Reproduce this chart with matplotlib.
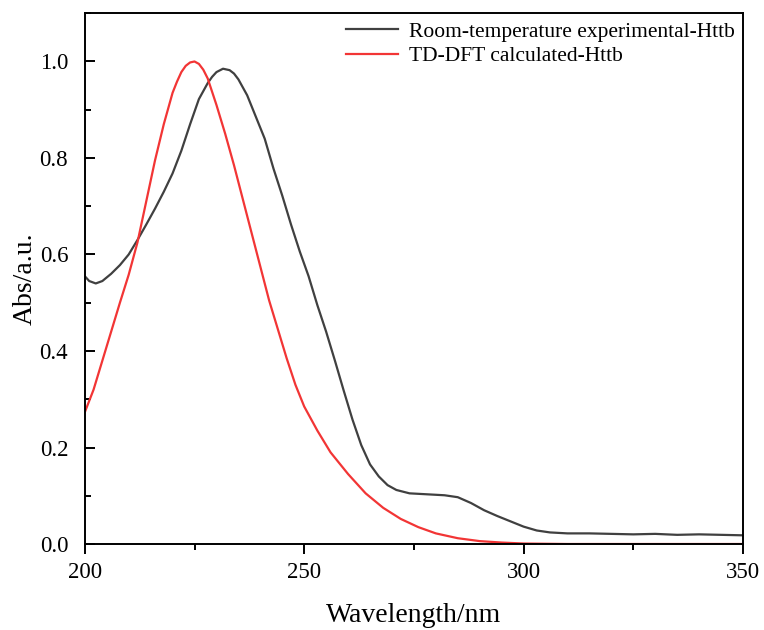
import numpy as np
import matplotlib
matplotlib.use('Agg')
import matplotlib.pyplot as plt
from matplotlib.ticker import MultipleLocator

# Room-temperature experimental spectrum
wl_exp = [200, 201, 202.5, 204, 206, 208, 210, 212, 214, 216, 218, 220, 222, 224,
          226, 228, 229, 230, 231.5, 233, 234, 235, 237, 239, 241, 243, 245, 247,
          249, 251, 253, 255, 257, 259, 261, 263, 265, 267, 269, 271, 274, 278,
          282, 285, 288, 291, 294, 297, 300, 303, 306, 310, 315, 320, 325, 330,
          335, 340, 345, 350]
abs_exp = [0.555, 0.545, 0.540, 0.545, 0.560, 0.578, 0.600, 0.630, 0.662, 0.695,
           0.730, 0.768, 0.815, 0.870, 0.922, 0.955, 0.968, 0.978, 0.985, 0.982,
           0.975, 0.963, 0.930, 0.885, 0.840, 0.778, 0.722, 0.662, 0.606, 0.555,
           0.495, 0.440, 0.380, 0.318, 0.258, 0.205, 0.165, 0.140, 0.122, 0.112,
           0.105, 0.103, 0.101, 0.097, 0.085, 0.070, 0.058, 0.047, 0.036, 0.028,
           0.024, 0.022, 0.022, 0.021, 0.020, 0.021, 0.019, 0.020, 0.019, 0.018]

# TD-DFT calculated spectrum
wl_dft = [200, 202, 204, 206, 208, 210, 212, 214, 216, 218, 220, 221, 222, 223,
          224, 225, 226, 227, 228, 230, 232, 234, 236, 238, 240, 242, 244, 246,
          248, 250, 253, 256, 260, 264, 268, 272, 276, 280, 285, 290, 295, 300,
          310, 350]
abs_dft = [0.273, 0.32, 0.38, 0.44, 0.50, 0.558, 0.625, 0.71, 0.795, 0.87, 0.935,
           0.958, 0.978, 0.991, 0.998, 1.0, 0.995, 0.983, 0.965, 0.91, 0.85, 0.785,
           0.715, 0.645, 0.575, 0.505, 0.445, 0.385, 0.33, 0.285, 0.235, 0.19,
           0.145, 0.105, 0.075, 0.052, 0.035, 0.022, 0.012, 0.006, 0.003, 0.001,
           0.0, 0.0]

plt.rcParams['font.family'] = ['Liberation Serif', 'DejaVu Serif']

fig = plt.figure(figsize=(7.64, 6.30), dpi=100)
ax = fig.add_axes([0.111, 0.1365, 0.8615, 0.8425])

ax.plot(wl_exp, abs_exp, color='#404040', lw=1.6, label='Room-temperature experimental-Httb')
ax.plot(wl_dft, abs_dft, color='#f23535', lw=1.6, label='TD-DFT calculated-Httb')

ax.set_xlim(200, 350)
ax.set_ylim(0, 1.1)
ax.xaxis.set_major_locator(MultipleLocator(50))
ax.xaxis.set_minor_locator(MultipleLocator(25))
ax.yaxis.set_major_locator(MultipleLocator(0.2))
ax.yaxis.set_minor_locator(MultipleLocator(0.1))
ax.yaxis.set_major_formatter(plt.FormatStrFormatter('%.1f'))

ax.tick_params(axis='x', which='major', direction='out', length=7, width=1.4, labelsize=16.5, pad=6)
ax.tick_params(axis='x', which='minor', direction='out', length=4, width=1.4)
ax.tick_params(axis='y', which='major', direction='in', length=7, width=1.4, labelsize=16.5, pad=12)
ax.tick_params(axis='y', which='minor', direction='in', length=4, width=1.4)
for s in ax.spines.values():
    s.set_linewidth(1.4)

ax.set_xlabel('Wavelength/nm', fontsize=20, labelpad=14)
ax.set_ylabel('Abs/a.u.', fontsize=20, labelpad=1.5)

ax.legend(loc='upper right', frameon=False, fontsize=15.5, handlelength=2.4,
          handletextpad=0.5, labelspacing=0.2, borderaxespad=0.0,
          bbox_to_anchor=(1.0, 1.0))

fig.savefig('out.png', dpi=100)
